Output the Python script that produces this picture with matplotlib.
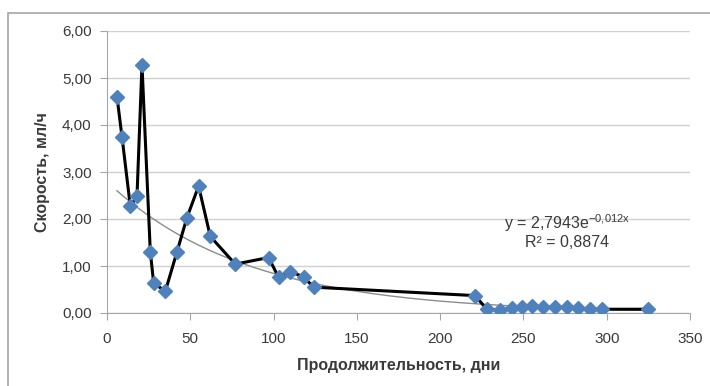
import numpy as np
import matplotlib
matplotlib.use("Agg")
import matplotlib.pyplot as plt
from matplotlib.patches import Rectangle

plt.rcParams['font.family'] = ['Liberation Sans', 'DejaVu Sans']

# data
days = [6, 9, 14, 18, 21, 26, 28, 35, 42, 48, 55, 62, 77, 97, 103, 110, 118, 124,
        221, 228, 236, 243, 249, 255, 262, 269, 276, 283, 290, 297, 325]
speed = [4.60, 3.75, 2.27, 2.48, 5.28, 1.30, 0.64, 0.46, 1.30, 2.03, 2.70, 1.63,
         1.04, 1.18, 0.76, 0.88, 0.77, 0.55,
         0.37, 0.08, 0.06, 0.11, 0.12, 0.14, 0.12, 0.12, 0.12, 0.10, 0.08, 0.08, 0.08]

trend_a = 2.7943
trend_b = -0.012
x_ticks = [0, 50, 100, 150, 200, 250, 300, 350]
y_ticks = [0, 1, 2, 3, 4, 5, 6]

TXT = '#3a3a3a'

fig = plt.figure(figsize=(7.1, 3.86), dpi=100)
fig.patches.append(Rectangle((8 / 710, -0.1), 1.1, 1 - 13 / 386 + 0.1,
                             transform=fig.transFigure, fill=False,
                             edgecolor='#a6a6a6', linewidth=1.2))
ax = fig.add_axes([107 / 710, 73 / 386, 583 / 710, 282 / 386])

# trend line
xt = np.linspace(min(days), max(days), 300)
ax.plot(xt, trend_a * np.exp(trend_b * xt), color='#8c8c8c', linewidth=1.0, zorder=2)

ax.plot(days, speed, color='black', linewidth=2.2, zorder=3,
        marker='D', markersize=7.5, markerfacecolor='#4f81bd',
        markeredgecolor='#4f81bd')

ax.set_xlim(0, 350)
ax.set_ylim(0, 6)
ax.set_xticks(x_ticks)
ax.set_yticks(y_ticks)
ax.set_yticklabels([f"{v:.2f}".replace('.', ',') for v in y_ticks])
ax.tick_params(labelsize=11, colors=TXT, length=5, width=0.8,
               color='#a6a6a6')
ax.tick_params(axis='y', pad=6)
ax.tick_params(axis='x', pad=9)
ax.grid(axis='y', color='#d0d0d0', linewidth=1.0)
ax.set_axisbelow(True)
for s in ['top', 'right']:
    ax.spines[s].set_visible(False)
for s in ['left', 'bottom']:
    ax.spines[s].set_color('#a6a6a6')

ax.set_xlabel("Продолжительность, дни", fontsize=11.5, fontweight='bold',
              color=TXT, labelpad=8)
ax.set_ylabel("Скорость, мл/ч", fontsize=11.5, fontweight='bold',
              color=TXT, labelpad=9)

ax.text(276, 1.91, r'y = 2,7943e$^{\mathregular{-0{,}012x}}$', fontsize=11.5,
        color=TXT, ha='center', va='center')
ax.text(276, 1.49, 'R² = 0,8874', fontsize=11.5, color=TXT,
        ha='center', va='center')

fig.savefig('out.png', dpi=100)
